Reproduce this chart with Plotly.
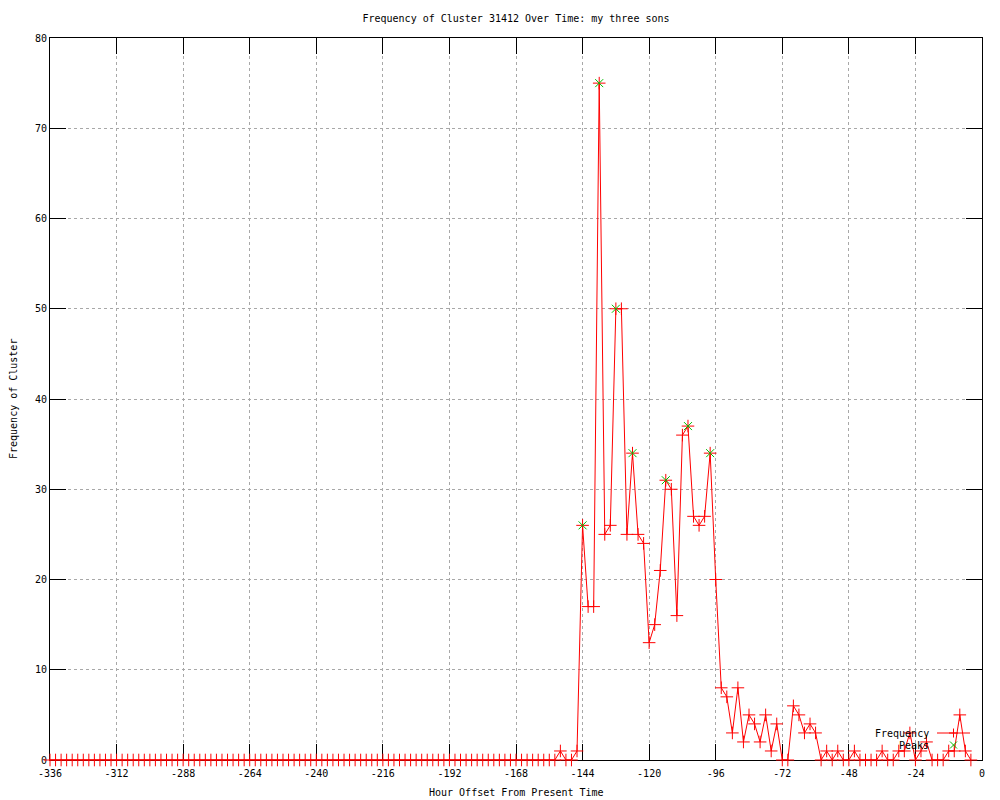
import plotly.graph_objects as go

# Hours (offset from present), sampled every 2 hours
hours = list(range(-336, -2, 2))

# Frequency of cluster at each hour offset
freq = [
    # -336 .. -154 : all zero
    0, 0, 0, 0, 0, 0, 0, 0, 0, 0, 0, 0, 0, 0, 0, 0, 0, 0, 0, 0,
    0, 0, 0, 0, 0, 0, 0, 0, 0, 0, 0, 0, 0, 0, 0, 0, 0, 0, 0, 0,
    0, 0, 0, 0, 0, 0, 0, 0, 0, 0, 0, 0, 0, 0, 0, 0, 0, 0, 0, 0,
    0, 0, 0, 0, 0, 0, 0, 0, 0, 0, 0, 0, 0, 0, 0, 0, 0, 0, 0, 0,
    0, 0, 0, 0, 0, 0, 0, 0, 0, 0, 0, 0,
    # -152 .. -4
    1, 0, 0, 1, 26, 17, 17, 75, 25, 26,
    50, 50, 25, 34, 25, 24, 13, 15, 21, 31,
    30, 16, 36, 37, 27, 26, 27, 34, 20, 8,
    7, 3, 8, 2, 5, 4, 2, 5, 1, 4,
    0, 0, 6, 5, 3, 4, 3, 0, 1, 0,
    1, 0, 0, 1, 0, 0, 0, 0, 1, 0,
    0, 1, 1, 3, 0, 1, 2, 0, 0, 0,
    1, 1, 5, 1, 0,
]

# Detected peaks
peak_hours = [-144, -138, -132, -126, -114, -106, -98]
peak_vals = [26, 75, 50, 34, 31, 37, 34]

x_ticks = list(range(-336, 1, 24))
x_ticktext = [str(v) for v in x_ticks]
y_ticks = list(range(0, 81, 10))

FONT = "DejaVu Sans Mono"
RED = "#ff0000"
GREEN = "#00c000"

fig = go.Figure()
fig.add_trace(go.Scatter(
    x=hours, y=freq, mode="lines+markers", name="Frequency",
    line=dict(color=RED, width=1),
    marker=dict(symbol="cross-thin-open", size=9, color=RED,
                line=dict(color=RED, width=1)),
    cliponaxis=False, showlegend=False,
))
fig.add_trace(go.Scatter(
    x=peak_hours, y=peak_vals, mode="markers", name="Peaks",
    marker=dict(symbol="x-thin-open", size=8, color=GREEN,
                line=dict(color=GREEN, width=1)),
    cliponaxis=False, showlegend=False,
))

axis_common = dict(
    showline=True, linecolor="black", linewidth=1, mirror="ticks",
    ticks="inside", ticklen=16, tickcolor="black", tickwidth=1,
    showgrid=True, gridcolor="#a8a8a8", griddash="dot", gridwidth=1,
    zeroline=False, layer="below traces", automargin=False,
    tickfont=dict(family=FONT, size=10, color="black"),
)

# The page body adds an 8px offset, so margins are reduced accordingly
fig.update_layout(
    width=1000, height=800,
    margin=dict(l=42, r=26, t=30, b=48),
    paper_bgcolor="white", plot_bgcolor="white",
    font=dict(family=FONT, size=10, color="black"),
    title=dict(text="Frequency of Cluster 31412 Over Time: my three sons",
               x=0.5, xref="paper", y=1 - 10 / 800, yanchor="middle",
               font=dict(family=FONT, size=10, color="black")),
    xaxis=dict(range=[-336, 0], tickvals=x_ticks, ticktext=x_ticktext,
               ticklabelstandoff=4, **axis_common),
    yaxis=dict(range=[0, 80], tickvals=y_ticks, **axis_common),
)

# paper-coordinate helpers (screen pixels -> paper fraction)
pw, ph = 932.0, 722.0
def px(xp):
    return (xp - 50) / pw
def py(yp):
    return (760 - yp) / ph

# axis titles
fig.add_annotation(x=0.5, y=py(793), xref="paper", yref="paper",
                   text="Hour Offset From Present Time", showarrow=False,
                   xanchor="center", yanchor="middle",
                   font=dict(family=FONT, size=10, color="black"))
fig.add_annotation(x=px(13), y=py(399), xref="paper", yref="paper",
                   text="Frequency of Cluster", showarrow=False, textangle=-90,
                   xanchor="center", yanchor="middle",
                   font=dict(family=FONT, size=10, color="black"))

# gnuplot-style key (text on the left, sample on the right)
fig.add_annotation(x=px(931), y=py(733), xref="paper", yref="paper",
                   text="Frequency", showarrow=False, xanchor="right",
                   yanchor="middle", font=dict(family=FONT, size=10, color="black"))
fig.add_annotation(x=px(931), y=py(745), xref="paper", yref="paper",
                   text="Peaks", showarrow=False, xanchor="right",
                   yanchor="middle", font=dict(family=FONT, size=10, color="black"))
shapes = [
    dict(type="line", xref="paper", yref="paper", x0=px(937), x1=px(970),
         y0=py(733), y1=py(733), line=dict(color=RED, width=1)),
    dict(type="line", xref="paper", yref="paper", x0=px(949), x1=px(958),
         y0=py(733), y1=py(733), line=dict(color=RED, width=1)),
    dict(type="line", xref="paper", yref="paper", x0=px(953.5), x1=px(953.5),
         y0=py(728.5), y1=py(737.5), line=dict(color=RED, width=1)),
    dict(type="line", xref="paper", yref="paper", x0=px(950), x1=px(957),
         y0=py(741.5), y1=py(748.5), line=dict(color=GREEN, width=1)),
    dict(type="line", xref="paper", yref="paper", x0=px(950), x1=px(957),
         y0=py(748.5), y1=py(741.5), line=dict(color=GREEN, width=1)),
]
fig.update_layout(shapes=shapes)

fig.write_html("out.html")
